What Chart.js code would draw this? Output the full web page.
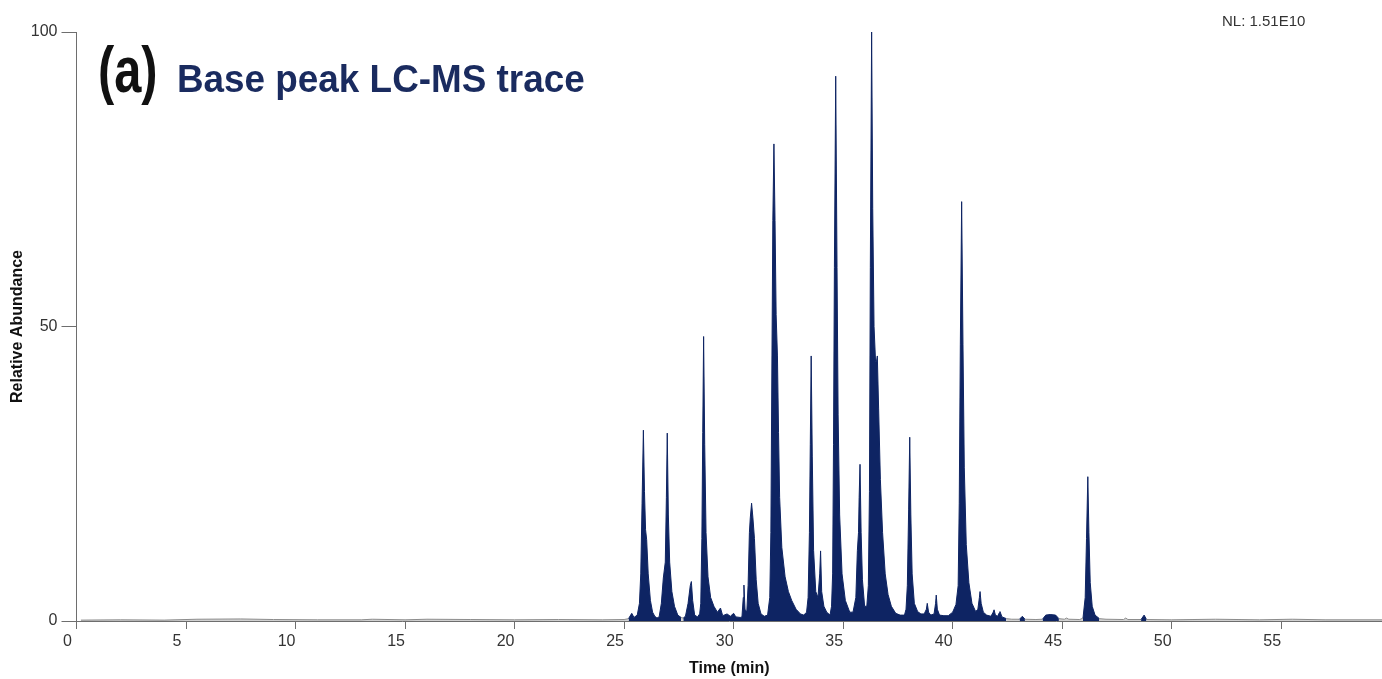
<!DOCTYPE html>
<html>
<head>
<meta charset="utf-8">
<script src="https://cdn.jsdelivr.net/npm/chart.js@4/dist/chart.umd.min.js"></script>
<style>
  html, body { margin: 0; padding: 0; background: #ffffff; }
  #wrap { position: relative; width: 1382px; height: 679px; overflow: hidden; }
  #trace { position: absolute; left: 0; top: 0; }
  .lbl { position: absolute; white-space: nowrap; line-height: 1; font-family: "Liberation Sans", Arial, sans-serif; transform-origin: 0 0; }
  #panel { left: 98px; top: 37px; font-size: 65px; font-weight: bold; color: #111111; transform: scaleX(0.75); }
  #heading { left: 177px; top: 60px; font-size: 38px; font-weight: bold; color: #1a2b5f; transform: scaleX(0.97); }
  #nl { left: 1222px; top: 13px; font-size: 15px; color: #333333; }
</style>
</head>
<body>
<div id="wrap">
  <canvas id="trace" width="1382" height="679"></canvas>
  <div class="lbl" id="panel">(a)</div>
  <div class="lbl" id="heading">Base peak LC-MS trace</div>
  <div class="lbl" id="nl">NL: 1.51E10</div>
</div>
<script>
// Retention time (min) of each sample point of the base peak chromatogram
const times = [
  0.2, 2.0, 4.0, 5.5, 7.5, 9.0, 11.0, 13.0, 13.5, 15.0, 16.0, 18.0, 20.0, 22.0, 24.0, 25.0,
  25.2, 25.35, 25.45,
  25.6, 25.7, 25.76, 25.82, 25.88, 25.93, 25.98, 26.03, 26.1, 26.2, 26.3, 26.4, 26.5,
  26.6, 26.7, 26.79, 26.88, 26.93, 26.97, 27.02, 27.08, 27.18, 27.3, 27.45, 27.6, 27.7,
  27.8, 27.92, 28.02, 28.07, 28.13, 28.22, 28.35,
  28.45, 28.5, 28.55, 28.59, 28.63, 28.68, 28.74, 28.83, 28.95, 29.1, 29.26, 29.4, 29.5, 29.7, 29.85, 30.0, 30.1, 30.3,
  30.38, 30.44, 30.47, 30.52, 30.6,
  30.66, 30.72, 30.76, 30.82, 30.88, 30.95, 31.03, 31.12, 31.25, 31.4,
  31.55, 31.65, 31.7, 31.75, 31.79, 31.84, 31.89, 31.94, 32.0, 32.05, 32.1, 32.2, 32.35, 32.5, 32.65, 32.85, 33.05, 33.2,
  33.33, 33.4, 33.46, 33.5, 33.54, 33.59, 33.65, 33.75, 33.85, 33.93, 33.97, 34.02, 34.12, 34.25, 34.4,
  34.47, 34.52, 34.56, 34.6, 34.66, 34.72, 34.77, 34.84, 34.95, 35.1, 35.3, 35.45,
  35.58, 35.65, 35.7, 35.73, 35.77, 35.82, 35.88, 35.98, 36.08,
  36.15, 36.2, 36.24, 36.3, 36.35, 36.41, 36.48, 36.52, 36.56, 36.62, 36.7, 36.8, 36.92, 37.05, 37.2, 37.4, 37.6, 37.8,
  37.87, 37.93, 37.99, 38.04, 38.09, 38.15, 38.25, 38.4, 38.55, 38.7, 38.8, 38.84, 38.9, 39.0, 39.15, 39.22, 39.25, 39.3, 39.4, 39.6, 39.8,
  40.0, 40.15, 40.25, 40.3, 40.35, 40.41, 40.47, 40.53, 40.62, 40.74, 40.88, 41.05, 41.15, 41.22, 41.25, 41.3, 41.4, 41.55, 41.75,
  41.85, 41.89, 41.95, 42.05, 42.13, 42.16, 42.25, 42.45, 42.7, 43.05, 43.18, 43.3, 43.8,
  44.1, 44.25, 44.45, 44.7, 44.85, 45.1, 45.2, 45.3, 45.8,
  45.95, 46.05, 46.11, 46.17, 46.22, 46.28, 46.37, 46.5, 46.7, 47.0,
  47.8, 47.9, 48.0, 48.6, 48.74, 48.85, 50.0, 52.0, 54.0, 55.5, 57.0, 59.6
];

// Relative abundance (%) at each retention time above
const abundance = [
  0.15, 0.2, 0.15, 0.3, 0.35, 0.25, 0.2, 0.2, 0.3, 0.2, 0.3, 0.25, 0.2, 0.25, 0.2, 0.25,
  0.4, 1.3, 0.6,
  1.0, 3, 8, 20, 32.4, 22, 15.5, 13.8, 8, 3.5, 1.5, 0.8, 0.5,
  0.7, 3, 7.3, 10, 21, 31.9, 18, 10, 5, 2.5, 1.0, 0.6, 0.5,
  0.8, 3, 6, 6.7, 3.5, 1.0, 0.7,
  1.2, 3, 14, 32, 48.3, 30, 15, 7.5, 4, 2.5, 1.5, 2.2, 0.9, 1.2, 0.8, 1.3, 0.7, 0.6,
  0.7, 4, 6.1, 2, 1.5,
  6, 15, 17.5, 20, 17.5, 14, 7, 3, 1.2, 0.8,
  1.0, 4, 15, 45, 68, 81, 68, 52, 45, 32, 21, 12.5, 7.5, 5, 3.5, 2, 1.2, 1.0,
  1.5, 4, 15, 30, 45, 28, 12, 5, 4, 8, 11.9, 5, 2.5, 1.5, 1.0,
  2.5, 8, 30, 60, 92.5, 60, 35, 18, 8, 3.5, 1.5, 1.5,
  4, 12, 15, 21, 26.6, 15, 7, 2.5, 2.5,
  6, 22, 60, 100, 70, 50, 44, 44, 45, 36, 24, 15, 8, 4.5, 2.5, 1.3, 1.0, 1.0,
  2, 6, 19, 31.2, 18, 8, 3, 1.6, 1.2, 1.2, 2, 3, 1.5, 1.0, 1.2, 3, 4.4, 2, 1.0, 0.9, 0.9,
  1.5, 2.8, 6, 20, 47, 71.2, 47, 26, 13, 6.5, 3, 1.6, 2, 4, 5, 3, 1.5, 1.0, 0.8,
  1.5, 1.9, 1.0, 0.8, 1.4, 1.6, 0.7, 0.4, 0.3, 0.3, 0.8, 0.3, 0.25,
  0.3, 1.0, 1.1, 1.0, 0.4, 0.3, 0.5, 0.3, 0.25,
  0.5, 4, 14, 24.5, 15, 6.5, 2.5, 1.0, 0.4, 0.3,
  0.25, 0.5, 0.25, 0.25, 1.0, 0.25, 0.2, 0.3, 0.2, 0.3, 0.2, 0.2
];

// Axis tick values
const timeTicks = [0, 5, 10, 15, 20, 25, 30, 35, 40, 45, 50, 55];
const abundanceTicks = [0, 50, 100];

const traceColor = '#0e2463';
const baselineColor = '#8c8c8c';
const baselineFill = 'rgba(150,150,150,0.45)';
const axisColor = '#6e6e6e';
const tickFont = { family: '"Liberation Sans", Arial, sans-serif', size: 16 };
const titleFont = { family: '"Liberation Sans", Arial, sans-serif', size: 16, weight: 'bold' };

const points = times.map((t, i) => ({ x: t, y: abundance[i] }));
const isBaseline = ctx => ctx.p0.parsed.y < 0.7 && ctx.p1.parsed.y < 0.7;

new Chart(document.getElementById('trace'), {
  type: 'line',
  data: {
    datasets: [{
      data: points,
      borderColor: traceColor,
      backgroundColor: traceColor,
      borderWidth: 1,
      pointRadius: 0,
      tension: 0,
      fill: 'origin',
      clip: 4,
      segment: {
        borderColor: ctx => isBaseline(ctx) ? baselineColor : traceColor,
        backgroundColor: ctx => isBaseline(ctx) ? baselineFill : traceColor
      }
    }]
  },
  options: {
    responsive: false,
    animation: false,
    events: [],
    layout: { padding: { top: 32, right: 0, left: 0, bottom: 0 } },
    plugins: { legend: { display: false }, tooltip: { enabled: false }, title: { display: false } },
    scales: {
      x: {
        type: 'linear',
        min: 0,
        max: 59.6,
        afterBuildTicks: s => { s.ticks = timeTicks.map(v => ({ value: v })); },
        afterFit: s => { s.height = 58; },
        ticks: { color: '#333333', font: tickFont, padding: 3, labelOffset: -9, autoSkip: false, maxRotation: 0 },
        grid: { display: true, drawOnChartArea: false, drawTicks: true, tickLength: 8, color: axisColor, lineWidth: 1 },
        border: { display: true, color: axisColor, width: 1 },
        title: { display: true, text: 'Time (min)', color: '#111111', font: titleFont, padding: { top: 0, bottom: 1 } }
      },
      y: {
        min: 0,
        max: 100,
        afterBuildTicks: s => { s.ticks = abundanceTicks.map(v => ({ value: v })); },
        afterFit: s => { s.width = 76.5; },
        ticks: { color: '#333333', font: tickFont, padding: 4 },
        grid: { display: true, drawOnChartArea: false, drawTicks: true, tickLength: 15, color: axisColor, lineWidth: 1 },
        border: { display: true, color: axisColor, width: 1 },
        title: { display: true, text: 'Relative Abundance', color: '#111111', font: titleFont, padding: { top: 8, bottom: 0 } }
      }
    }
  }
});
</script>
</body>
</html>
